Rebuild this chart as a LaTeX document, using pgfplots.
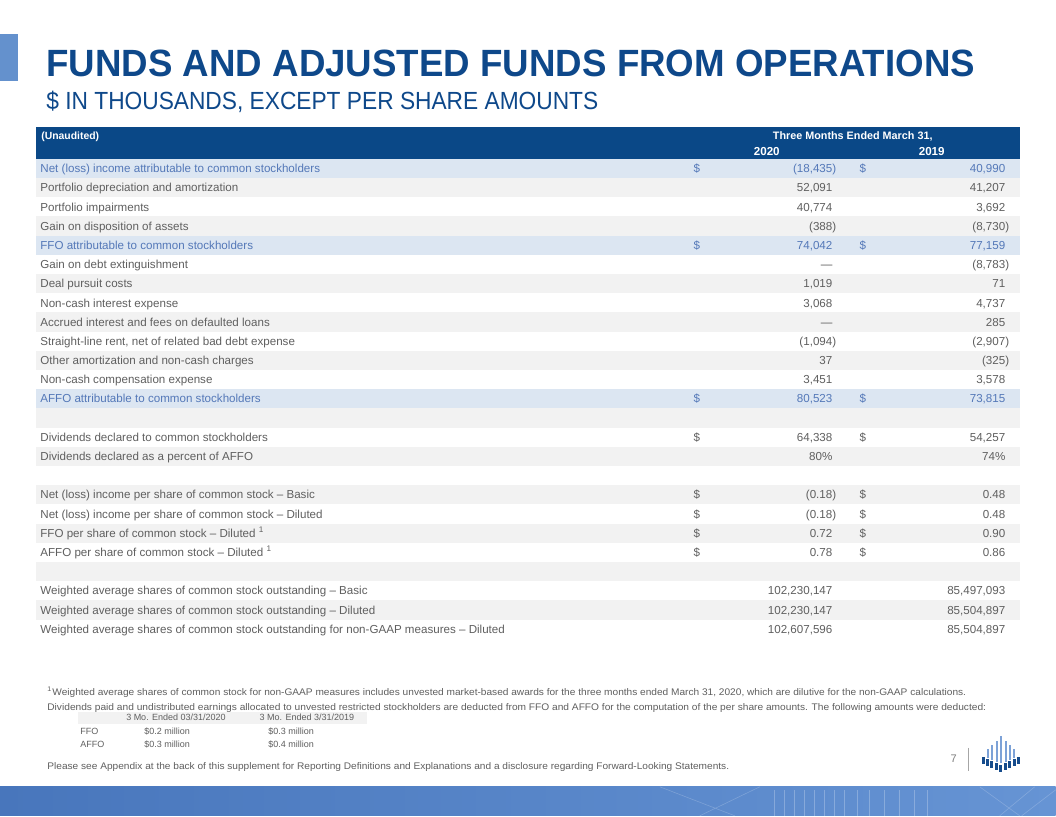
\documentclass[border=0pt]{standalone}
\usepackage{graphicx}
\usepackage{pgfplots}
\pgfplotsset{compat=1.18}
\usepackage{fontspec}
\setmainfont{Liberation Sans}
\definecolor{titleblue}{RGB}{14,72,138}
\definecolor{headblue}{RGB}{10,72,135}
\definecolor{rowblue}{RGB}{220,230,242}
\definecolor{txtblue}{RGB}{84,120,184}
\definecolor{rowgray}{RGB}{242,242,242}
\definecolor{txtgray}{RGB}{95,95,95}
\definecolor{barblue}{RGB}{100,145,205}
\definecolor{bandL}{RGB}{72,118,188}
\definecolor{bandR}{RGB}{102,148,212}
\definecolor{logolight}{RGB}{125,162,215}
\definecolor{logodark}{RGB}{22,76,140}
\tikzset{rowtxt/.style={inner sep=0pt, font=\fontsize{5.8}{7}\selectfont},
  small/.style={inner sep=0pt, text=txtgray, font=\fontsize{4.5}{5}\selectfont}}
% row helpers (row i centre = 168.5 + 19.2 (i-1))
\newcommand{\rowbg}[2]{\fill[#2] (axis cs:36,{158.9+19.2*(#1-1)}) rectangle (axis cs:1020,{158.9+19.2*#1});}
\newcommand{\lab}[3]{\node[rowtxt,anchor=base west,text=#2] at (axis cs:40,{172.7+19.2*(#1-1)}) {#3};}
\newcommand{\dol}[2]{\node[rowtxt,anchor=base,text=#2] at (axis cs:697,{172.7+19.2*(#1-1)}) {\$};
 \node[rowtxt,anchor=base,text=#2] at (axis cs:863,{172.7+19.2*(#1-1)}) {\$};}
\newcommand{\va}[4]{\node[rowtxt,anchor=base east,text=#2] at (axis cs:833,{172.7+19.2*(#1-1)}) {#3};
 \node[rowtxt,anchor=base east,text=#2] at (axis cs:1006,{172.7+19.2*(#1-1)}) {#4};}
\newcommand{\cp}{\rlap{)}}
\newcommand{\lbar}[3]{\fill[logolight] (axis cs:{#1-0.8},#2) rectangle (axis cs:{#1+0.8},#3);}
\newcommand{\dbar}[3]{\fill[logodark] (axis cs:{#1-1.4},#2) rectangle (axis cs:{#1+1.4},#3);}
\newcommand{\vln}[1]{\draw[white, opacity=0.25, line width=0.3pt] (axis cs:#1,790) -- (axis cs:#1,816);}
\begin{document}
\begin{tikzpicture}
\begin{axis}[scale only axis, width=528pt, height=408pt,
  xmin=0, xmax=1056, ymin=0, ymax=816, y dir=reverse,
  hide axis, clip=false]
\fill[white] (axis cs:0,0) rectangle (axis cs:1056,816);
% left accent bar
\fill[barblue] (axis cs:0,34) rectangle (axis cs:18,81);
% titles
\node[anchor=base west, inner sep=0pt, text=titleblue, font=\fontsize{19}{20}\selectfont\bfseries]
  at (axis cs:46,77) {\resizebox{464.5pt}{\height}{FUNDS AND ADJUSTED FUNDS FROM OPERATIONS}};
\node[anchor=base west, inner sep=0pt, text=titleblue, font=\fontsize{12.4}{13}\selectfont]
  at (axis cs:46,110) {\resizebox{276pt}{\height}{\$ IN THOUSANDS, EXCEPT PER SHARE AMOUNTS}};
% header band
\fill[headblue] (axis cs:36,127) rectangle (axis cs:1020,159);
\node[anchor=base west, inner sep=0pt, text=white, font=\fontsize{5.2}{6}\selectfont\bfseries] at (axis cs:41,140) {(Unaudited)};
\node[anchor=base, inner sep=0pt, text=white, font=\fontsize{5.4}{6}\selectfont\bfseries] at (axis cs:853,140) {Three Months Ended March 31,};
\node[anchor=base, inner sep=0pt, text=white, font=\fontsize{5.8}{6}\selectfont\bfseries] at (axis cs:767,156) {2020};
\node[anchor=base, inner sep=0pt, text=white, font=\fontsize{5.8}{6}\selectfont\bfseries] at (axis cs:932,156) {2019};
% row backgrounds
\rowbg{1}{rowblue}\rowbg{2}{rowgray}\rowbg{4}{rowgray}\rowbg{5}{rowblue}
\rowbg{7}{rowgray}\rowbg{9}{rowgray}\rowbg{11}{rowgray}\rowbg{13}{rowblue}
\rowbg{14}{rowgray}\rowbg{16}{rowgray}\rowbg{18}{rowgray}\rowbg{20}{rowgray}
\rowbg{22}{rowgray}\rowbg{24}{rowgray}
% rows
\lab{1}{txtblue}{Net (loss) income  attributable to common  stockholders}\dol{1}{txtblue}\va{1}{txtblue}{(18,435\cp}{40,990}
\lab{2}{txtgray}{Portfolio depreciation and amortization}\va{2}{txtgray}{52,091}{41,207}
\lab{3}{txtgray}{Portfolio impairments}\va{3}{txtgray}{40,774}{3,692}
\lab{4}{txtgray}{Gain on disposition of assets}\va{4}{txtgray}{(388\cp}{(8,730\cp}
\lab{5}{txtblue}{FFO attributable to common  stockholders}\dol{5}{txtblue}\va{5}{txtblue}{74,042}{77,159}
\lab{6}{txtgray}{Gain on debt extinguishment}\va{6}{txtgray}{—\hspace{5pt}}{(8,783\cp}
\lab{7}{txtgray}{Deal pursuit costs}\va{7}{txtgray}{1,019}{71}
\lab{8}{txtgray}{Non-cash interest expense}\va{8}{txtgray}{3,068}{4,737}
\lab{9}{txtgray}{Accrued interest and fees on defaulted loans}\va{9}{txtgray}{—\hspace{5pt}}{285}
\lab{10}{txtgray}{Straight-line rent, net of related bad debt expense}\va{10}{txtgray}{(1,094\cp}{(2,907\cp}
\lab{11}{txtgray}{Other amortization and non-cash charges}\va{11}{txtgray}{37}{(325\cp}
\lab{12}{txtgray}{Non-cash compensation expense}\va{12}{txtgray}{3,451}{3,578}
\lab{13}{txtblue}{AFFO attributable to common  stockholders}\dol{13}{txtblue}\va{13}{txtblue}{80,523}{73,815}
\lab{15}{txtgray}{Dividends declared to common stockholders}\dol{15}{txtgray}\va{15}{txtgray}{64,338}{54,257}
\lab{16}{txtgray}{Dividends declared as a percent of AFFO}\va{16}{txtgray}{80\%}{74\%}
\lab{18}{txtgray}{Net (loss) income per share of common stock – Basic}\dol{18}{txtgray}\va{18}{txtgray}{(0.18\cp}{0.48}
\lab{19}{txtgray}{Net (loss) income per share of common stock – Diluted}\dol{19}{txtgray}\va{19}{txtgray}{(0.18\cp}{0.48}
\lab{20}{txtgray}{FFO per share of common stock – Diluted \textsuperscript{1}}\dol{20}{txtgray}\va{20}{txtgray}{0.72}{0.90}
\lab{21}{txtgray}{AFFO per share of common stock – Diluted \textsuperscript{1}}\dol{21}{txtgray}\va{21}{txtgray}{0.78}{0.86}
\lab{23}{txtgray}{Weighted average  shares of common stock outstanding – Basic}\va{23}{txtgray}{102,230,147}{85,497,093}
\lab{24}{txtgray}{Weighted average  shares of common stock outstanding – Diluted}\va{24}{txtgray}{102,230,147}{85,504,897}
\lab{25}{txtgray}{Weighted average  shares of common stock outstanding for non-GAAP measures – Diluted}\va{25}{txtgray}{102,607,596}{85,504,897}
% footnotes
\node[anchor=base west, inner sep=0pt, text=txtgray, font=\fontsize{4.8}{6}\selectfont] at (axis cs:47,695.5)
 {\resizebox{459.5pt}{\height}{\textsuperscript{1}Weighted average shares of common stock for non-GAAP measures includes unvested market-based awards for the three months ended March 31, 2020, which are dilutive for the non-GAAP calculations.}};
\node[anchor=base west, inner sep=0pt, text=txtgray, font=\fontsize{4.8}{6}\selectfont] at (axis cs:47,710.5)
 {\resizebox{469.5pt}{\height}{Dividends paid and undistributed earnings allocated to unvested restricted stockholders are deducted from FFO and AFFO for the computation of the per share amounts. The following amounts were deducted:}};
% small table
\fill[rowgray] (axis cs:78,712) rectangle (axis cs:367,724);
\node[small, anchor=base] at (axis cs:176,720.8) {3 Mo. Ended 03/31/2020};
\node[small, anchor=base] at (axis cs:307,720.8) {3 Mo. Ended 3/31/2019};
\node[small, anchor=base west] at (axis cs:80,734.5) {FFO};
\node[small, anchor=base west] at (axis cs:80,747.5) {AFFO};
\node[small, anchor=base west] at (axis cs:144,734.5) {\$0.2 million};
\node[small, anchor=base west] at (axis cs:144,747.5) {\$0.3 million};
\node[small, anchor=base west] at (axis cs:268,734.5) {\$0.3 million};
\node[small, anchor=base west] at (axis cs:268,747.5) {\$0.4 million};
\node[anchor=base west, inner sep=0pt, text=txtgray, font=\fontsize{4.8}{6}\selectfont] at (axis cs:47,769.5)
 {\resizebox{341pt}{\height}{Please see Appendix at the back of this supplement for Reporting Definitions and Explanations and a disclosure regarding Forward-Looking Statements.}};
% page number and logo
\node[anchor=base, inner sep=0pt, text=txtgray!80, font=\fontsize{5.5}{6}\selectfont] at (axis cs:954,763) {7};
\draw[gray!70, line width=0.4pt] (axis cs:969,748) -- (axis cs:969,771);
\lbar{988}{749}{758}\lbar{992}{745}{760}\lbar{997}{741}{762}\lbar{1001}{736}{763}
\lbar{1006}{741}{762}\lbar{1010}{745}{760}\lbar{1014}{749}{758}
\dbar{984}{757}{764}\dbar{988}{759}{766}\dbar{992}{761}{768}\dbar{997}{763}{770}\dbar{1001}{765}{772}
\dbar{1006}{763}{770}\dbar{1010}{761}{768}\dbar{1015}{759}{766}\dbar{1019}{757}{764}
% bottom band
\shade[left color=bandL, right color=bandR] (axis cs:0,787) rectangle (axis cs:1056,816);
\vln{775}\vln{785}\vln{795}\vln{805}\vln{815}\vln{825}\vln{835}\vln{845}\vln{858}\vln{870}\vln{885}\vln{900}\vln{915}\vln{928}
\draw[white, opacity=0.2, line width=0.3pt] (axis cs:660,787) -- (axis cs:735,816) (axis cs:700,816) -- (axis cs:760,787)
  (axis cs:980,787) -- (axis cs:1020,816) (axis cs:1056,790) -- (axis cs:1022,816) (axis cs:1000,816) -- (axis cs:1035,787);
\end{axis}
\end{tikzpicture}
\end{document}
